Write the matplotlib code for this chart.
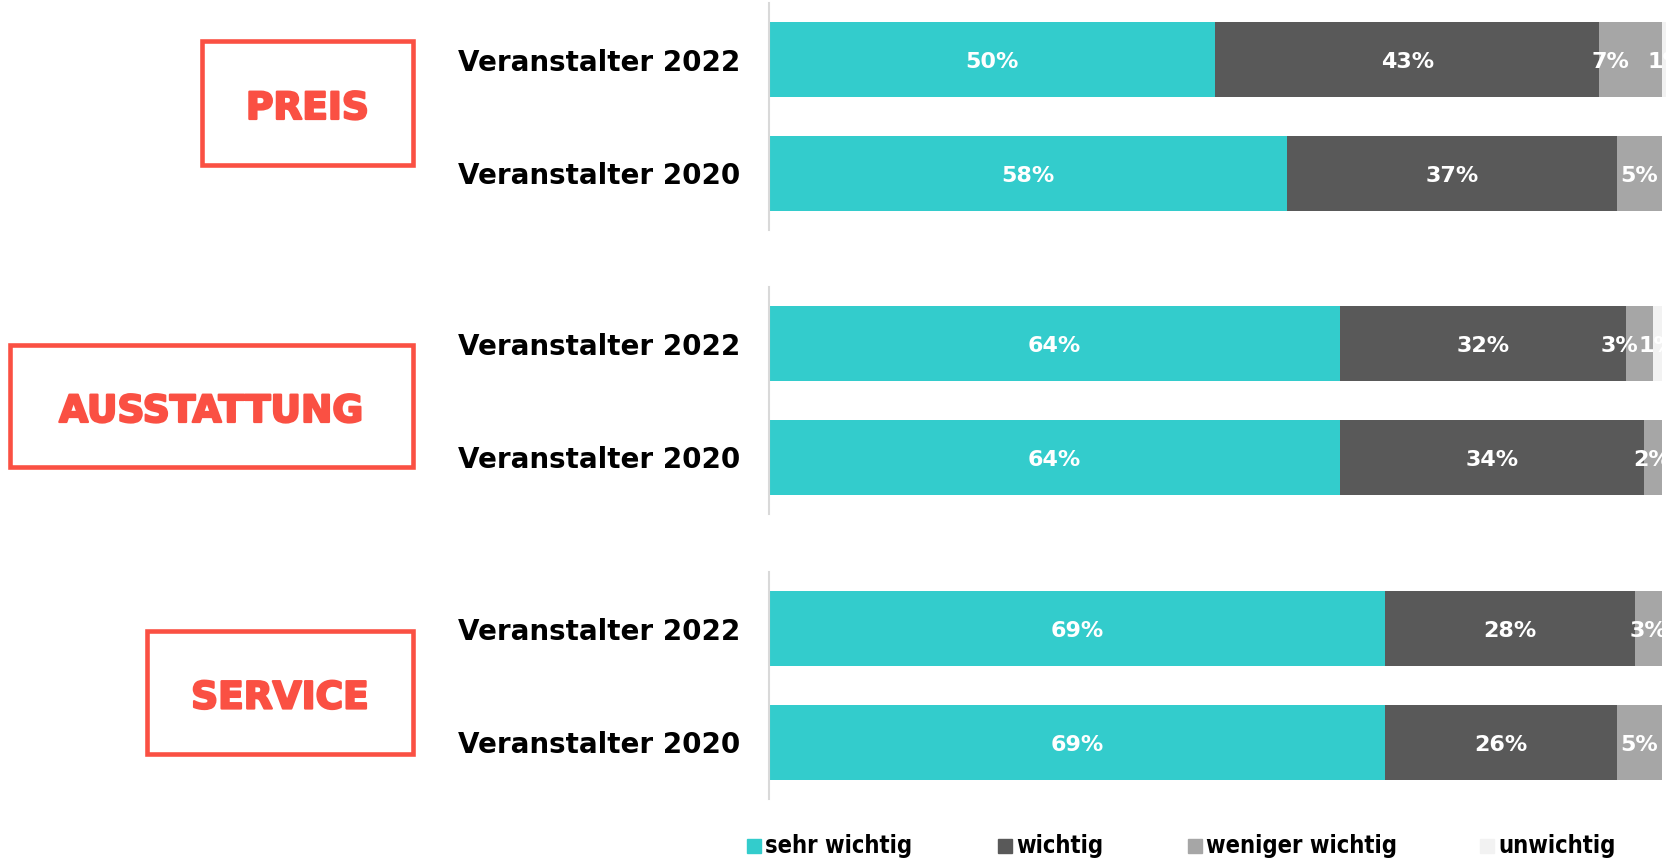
import matplotlib.pyplot as plt
import matplotlib.patheffects as pe
from matplotlib.patches import Rectangle

# Anteile je Gruppe: sehr wichtig / wichtig / weniger wichtig / unwichtig
gruppen = ["PREIS", "AUSSTATTUNG", "SERVICE"]
zeilen = ["Veranstalter 2022", "Veranstalter 2020"]
sehr_wichtig = [[50, 58], [64, 64], [69, 69]]
wichtig = [[43, 37], [32, 34], [28, 26]]
weniger_wichtig = [[7, 5], [3, 2], [3, 5]]
unwichtig = [[1, 0], [1, 0], [0, 0]]
legende = ["sehr wichtig", "wichtig", "weniger wichtig", "unwichtig"]

farben = ["#33CCCC", "#595959", "#A6A6A6", "#F2F2F2"]
rot = "#FA5043"

W, H = 1666, 860
fig = plt.figure(figsize=(W / 100, H / 100), dpi=100)

def fx(px):
    return px / W

def fy(py):
    return 1 - py / H

achsen_top = [3, 287, 572]
kasten = [(202, 41, 413, 165), (10, 345, 413, 467), (147, 631, 413, 754)]

for g in range(3):
    top = achsen_top[g]
    ax = fig.add_axes([fx(769), fy(top + 227), fx(1666 - 769), 227 / H])
    werte = [sehr_wichtig[g], wichtig[g], weniger_wichtig[g], unwichtig[g]]
    links = [0, 0]
    for s in range(4):
        ax.barh([0, 1], werte[s], left=links, height=0.66, color=farben[s], linewidth=0)
        for r in range(2):
            v = werte[s][r]
            if v > 0:
                xpos = links[r] + v / 2
                # schmale Segmente: Beschriftung etwas nach links, damit sie nicht mit 1% kollidiert
                if s == 2 and unwichtig[g][r] > 0:
                    xpos -= 2.2
                ax.text(xpos, r + 0.02, f"{v}%", ha="center", va="center",
                        color="white", fontsize=16, fontweight="bold", family="DejaVu Sans")
        links = [links[r] + werte[s][r] for r in range(2)]
    ax.set_xlim(0, 100.5)
    ax.set_ylim(1.5, -0.5)
    ax.set_xticks([])
    ax.set_yticks([0, 1])
    ax.set_yticklabels(zeilen, fontsize=20, fontweight="bold", family="DejaVu Sans")
    ax.tick_params(axis="y", length=0, pad=21)
    for sp in ["top", "right", "bottom"]:
        ax.spines[sp].set_visible(False)
    ax.spines["left"].set_color("#D9D9D9")
    ax.spines["left"].set_linewidth(1.5)

    # roter Rahmen mit Gruppenname
    x0, y0, x1, y1 = kasten[g]
    fig.patches.append(Rectangle((fx(x0), fy(y1)), fx(x1 - x0), (y1 - y0) / H,
                                 transform=fig.transFigure, fill=False,
                                 edgecolor=rot, linewidth=3.3))
    fig.text(fx((x0 + x1) / 2), fy((y0 + y1) / 2 + 6), gruppen[g], ha="center", va="center",
             color=rot, fontsize=27, fontweight="bold", family="DejaVu Sans",
             path_effects=[pe.withStroke(linewidth=1.6, foreground=rot)])

# Legende unten
leg_x = [747, 998, 1188, 1480]
for i in range(4):
    fig.patches.append(Rectangle((fx(leg_x[i]), fy(853)), fx(14), 14 / H,
                                 transform=fig.transFigure, color=farben[i]))
    fig.text(fx(leg_x[i] + 18), fy(846), legende[i], ha="left", va="center",
             fontsize=17, fontweight="bold", fontstretch="condensed", family="DejaVu Sans")

fig.savefig("out.png", dpi=100)
